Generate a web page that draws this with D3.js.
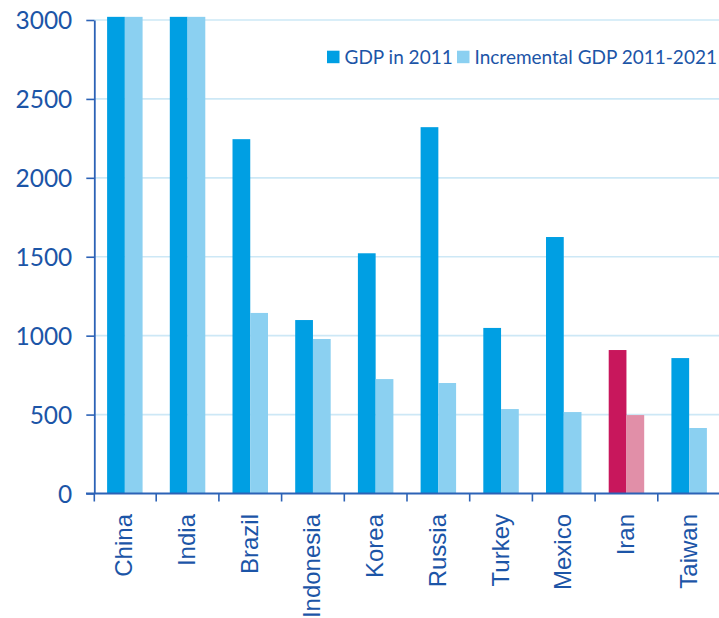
<!DOCTYPE html>
<html>
<head>
<meta charset="utf-8">
<script src="https://cdn.jsdelivr.net/npm/d3@7"></script>
<style>
  html, body { margin: 0; padding: 0; background: #fff; }
  svg { display: block; }
</style>
</head>
<body>
<svg id="chart" width="719" height="618"></svg>
<script>
// GDP in 2011 and the increment expected over 2011-2021, by economy.
// China and India run off the top of the scale, so they are capped at the plot edge.
const categories = ["China", "India", "Brazil", "Indonesia", "Korea", "Russia", "Turkey", "Mexico", "Iran", "Taiwan"];
const gdp2011     = [3020, 3020, 2245, 1099, 1522, 2321, 1049, 1625, 909, 858];
const incremental = [3020, 3020, 1144,  979,  725,  700,  535,  516, 497, 415];
const seriesNames = ["GDP in 2011", "Incremental GDP 2011-2021"];
const yTicks = [0, 500, 1000, 1500, 2000, 2500, 3000];
const highlighted = ["Iran"];

const palette = {
  normal:    ["#009fe3", "#8bd0f1"],
  highlight: ["#c8175c", "#e18fa8"],
  text: "#1c55a7",
  axis: "#2c62b6",
  grid: "#cde8f6"
};

const rows = categories.map((c, i) => ({ category: c, values: [gdp2011[i], incremental[i]] }));

const svg = d3.select("#chart");
const W = 719;

const y = d3.scaleLinear().domain([0, 3000]).range([493.5, 20]);
const x0 = d3.scaleBand().domain(categories).range([93.5, 720.5])
  .paddingInner(0.434).paddingOuter(0.217);
const x1 = d3.scaleBand().domain(d3.range(seriesNames.length)).range([0, x0.bandwidth()]).padding(0);

// gridlines
svg.append("g").selectAll("line")
  .data(yTicks.filter(t => t > 0))
  .join("line")
  .attr("x1", 94).attr("x2", W)
  .attr("y1", d => y(d)).attr("y2", d => y(d))
  .attr("stroke", palette.grid).attr("stroke-width", 1.6);

// bars
const groups = svg.append("g").selectAll("g")
  .data(rows)
  .join("g")
  .attr("transform", d => `translate(${x0(d.category)},0)`);

groups.selectAll("rect")
  .data(d => d.values.map((v, k) => ({ v, k, hl: highlighted.includes(d.category) })))
  .join("rect")
  .attr("x", d => x1(d.k))
  .attr("width", x1.bandwidth())
  .attr("y", d => y(d.v))
  .attr("height", d => y(0) - y(d.v))
  .attr("fill", d => (d.hl ? palette.highlight : palette.normal)[d.k]);

// y axis
const yAxis = svg.append("g")
  .attr("transform", "translate(94.3,0)")
  .call(d3.axisLeft(y).tickValues(yTicks).tickFormat(d3.format("d"))
    .tickSize(8).tickSizeOuter(0).tickPadding(14));
yAxis.select(".domain").attr("stroke", palette.axis).attr("stroke-width", 1.8);
yAxis.selectAll(".tick line").attr("stroke", palette.axis).attr("stroke-width", 1.6);
yAxis.selectAll(".tick text")
  .attr("fill", palette.text)
  .style("font-family", "Lato, 'Open Sans', sans-serif")
  .style("font-size", "24.5px")
  .attr("dy", "0.36em");

// x axis baseline and category boundary ticks
svg.append("line")
  .attr("x1", 86).attr("x2", W)
  .attr("y1", y(0)).attr("y2", y(0))
  .attr("stroke", palette.axis).attr("stroke-width", 1.8);

const boundaries = d3.range(categories.length).map(i => x0.range()[0] + i * x0.step());
boundaries[0] = 94.3;
svg.append("g").selectAll("line")
  .data(boundaries)
  .join("line")
  .attr("x1", d => d).attr("x2", d => d)
  .attr("y1", y(0)).attr("y2", y(0) + 8)
  .attr("stroke", palette.axis).attr("stroke-width", 1.6);

// category labels
svg.append("g").selectAll("text")
  .data(categories)
  .join("text")
  .attr("transform", d => `translate(${x0(d) + x0.bandwidth() / 2},514) rotate(-90)`)
  .attr("text-anchor", "end")
  .attr("dy", "0.31em")
  .attr("fill", palette.text)
  .style("font-family", "'Liberation Sans', Arial, sans-serif")
  .style("font-size", "24px")
  .text(d => d);

// legend
const legendX = [327, 457];
const legend = svg.append("g").selectAll("g")
  .data(seriesNames)
  .join("g")
  .attr("transform", (d, i) => `translate(${legendX[i]},0)`);
legend.append("rect")
  .attr("x", 0).attr("y", 50.7)
  .attr("width", 12.5).attr("height", 12.5)
  .attr("fill", (d, i) => palette.normal[i]);
legend.append("text")
  .attr("x", 17.5).attr("y", 64.3)
  .attr("fill", palette.text)
  .style("font-family", "Lato, 'Open Sans', sans-serif")
  .style("font-size", "19px")
  .text(d => d);
</script>
</body>
</html>
